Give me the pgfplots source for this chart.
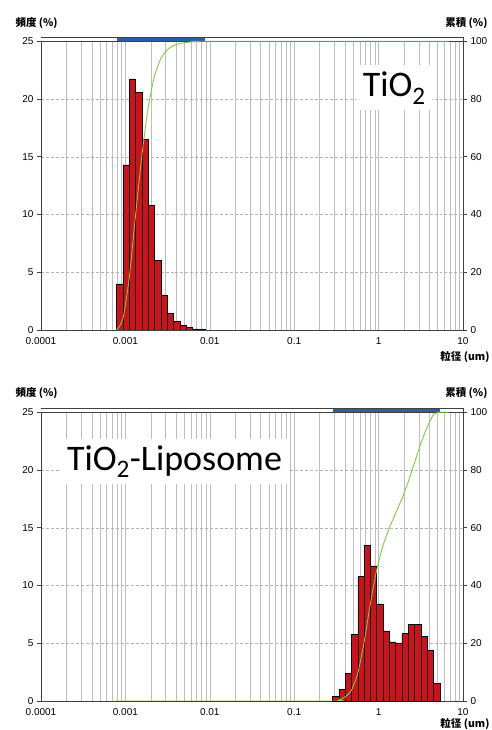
\documentclass[border=0pt]{standalone}
\usepackage{pgfplots}
\pgfplotsset{compat=1.18}
\usepackage{fontspec}
\setmainfont{Liberation Sans}
\newfontfamily\cjk{Noto Sans CJK JP}
\newfontfamily\calibrifont{Carlito}
\definecolor{barred}{RGB}{205,18,28}
\definecolor{bandblue}{RGB}{40,95,165}
\definecolor{cumgreen}{RGB}{125,205,60}
\definecolor{gridgray}{RGB}{190,190,190}
\begin{document}
\begin{tikzpicture}
\useasboundingbox (0,0) rectangle (492bp,730bp);
% ---------------- top panel: TiO2 ----------------
\begin{axis}[name=top, at={(41bp,400bp)}, anchor=south west,
    scale only axis, width=422bp, height=292.2bp,
    xmode=log, xmin=1e-4, xmax=10, ymin=0, ymax=25.3,
    /pgf/number format/assume math mode=true,
    tick label style={font=\fontsize{10bp}{12bp}\selectfont},
    axis line style={black!75, line width=0.8pt},
    tick align=outside, major tick length=4bp, minor tick length=0pt,
    tick style={black!75, line width=0.6pt},
    xtick={1e-4,1e-3,1e-2,1e-1,1,10},
    xticklabels={0.0001,0.001,0.01,0.1,1,10},
    xtick style={draw=none},
    ytick={0,5,...,25},
    xmajorgrids, xminorgrids, ymajorgrids,
    major x grid style={gridgray, line width=0.5pt},
    minor x grid style={gridgray, line width=0.45pt},
    major y grid style={gray!60, densely dashed, line width=0.5pt}]
\addplot[fill=white, draw=none] coordinates {(1e-4,25)(10,25)(10,25.3)(1e-4,25.3)};
\addplot[fill=bandblue, draw=none] coordinates {(0.000789,25)(0.008781,25)(0.008781,25.3)(0.000789,25.3)};
\addplot[black!75, line width=0.7pt] coordinates {(1e-4,25)(10,25)};
\addplot[ybar interval, fill=barred, draw=black, line width=0.5pt] coordinates {
(0.000789,4.0)(0.000937,14.3)(0.001113,21.75)(0.001322,20.6)(0.001571,16.55)
(0.001866,10.8)(0.002216,6.0)(0.002632,3.03)(0.003127,1.44)(0.003714,0.72)
(0.004411,0.38)(0.005240,0.2)(0.006224,0.1)(0.007393,0.05)(0.008781,0)};
\node[fill=white, inner sep=6bp, anchor=base west,
  font=\calibrifont\fontsize{36bp}{40bp}\selectfont] at (rel axis cs:0.748,0.80) {TiO\textsubscript{2}};
\end{axis}
\begin{axis}[at={(41bp,400bp)}, anchor=south west,
    scale only axis, width=422bp, height=292.2bp,
    xmode=log, xmin=1e-4, xmax=10, ymin=0, ymax=101.2,
    axis x line=none, axis y line*=right,
    /pgf/number format/assume math mode=true,
    tick label style={font=\fontsize{10bp}{12bp}\selectfont},
    axis line style={black!75, line width=0.8pt},
    tick align=outside, major tick length=4bp, minor tick length=0pt,
    tick style={black!75, line width=0.6pt},
    ytick={0,20,...,100}]
\addplot[cumgreen, line width=0.9pt, smooth, tension=0.4] coordinates {
(0.00076,0)(0.000789,0)(0.000937,4)(0.001113,18.3)(0.001322,40.05)(0.001571,60.65)
(0.001866,77.2)(0.002216,88)(0.002632,94)(0.003127,97.03)(0.003714,98.47)
(0.004411,99.19)(0.005240,99.57)(0.006224,99.77)(0.007393,99.87)(0.008781,100)(6.8,100)};
\end{axis}
\node[anchor=west, font=\cjk\bfseries\fontsize{10.5bp}{12bp}\selectfont] at ([xshift=-29bp,yshift=15bp]top.north west) {頻度 (\%)};
\node[anchor=east, font=\cjk\bfseries\fontsize{10.5bp}{12bp}\selectfont] at ([xshift=28bp,yshift=15bp]top.north east) {累積 (\%)};
\node[anchor=east, font=\cjk\bfseries\fontsize{10.5bp}{12bp}\selectfont] at ([xshift=30bp,yshift=-27bp]top.south east) {粒径 (um)};
% ---------------- bottom panel: TiO2-Liposome ----------------
\begin{axis}[name=bot, at={(41bp,29bp)}, anchor=south west,
    scale only axis, width=422bp, height=292.2bp,
    xmode=log, xmin=1e-4, xmax=10, ymin=0, ymax=25.3,
    /pgf/number format/assume math mode=true,
    tick label style={font=\fontsize{10bp}{12bp}\selectfont},
    axis line style={black!75, line width=0.8pt},
    tick align=outside, major tick length=4bp, minor tick length=0pt,
    tick style={black!75, line width=0.6pt},
    xtick={1e-4,1e-3,1e-2,1e-1,1,10},
    xticklabels={0.0001,0.001,0.01,0.1,1,10},
    xtick style={draw=none},
    ytick={0,5,...,25},
    xmajorgrids, xminorgrids, ymajorgrids,
    major x grid style={gridgray, line width=0.5pt},
    minor x grid style={gridgray, line width=0.45pt},
    major y grid style={gray!60, densely dashed, line width=0.5pt}]
\addplot[fill=white, draw=none] coordinates {(1e-4,25)(10,25)(10,25.3)(1e-4,25.3)};
\addplot[fill=bandblue, draw=none] coordinates {(0.2847,25)(5.309,25)(5.309,25.3)(0.2847,25.3)};
\addplot[black!75, line width=0.7pt] coordinates {(1e-4,25)(10,25)};
\addplot[ybar interval, fill=barred, draw=black, line width=0.5pt] coordinates {
(0.2847,0.37)(0.3382,1.0)(0.4017,2.36)(0.4771,5.78)(0.5667,10.8)(0.6731,13.45)
(0.7995,11.7)(0.9497,8.4)(1.1280,6.07)(1.3399,5.13)(1.5915,5.04)(1.8904,5.84)
(2.2454,6.64)(2.6671,6.64)(3.1680,5.6)(3.7629,4.4)(4.4696,1.5)(5.3090,0)};
\node[fill=white, inner sep=6bp, anchor=base west,
  font=\calibrifont\fontsize{36bp}{40bp}\selectfont] at (rel axis cs:0.047,0.79) {TiO\textsubscript{2}-Liposome};
\end{axis}
\begin{axis}[at={(41bp,29bp)}, anchor=south west,
    scale only axis, width=422bp, height=292.2bp,
    xmode=log, xmin=1e-4, xmax=10, ymin=0, ymax=101.2,
    axis x line=none, axis y line*=right,
    /pgf/number format/assume math mode=true,
    tick label style={font=\fontsize{10bp}{12bp}\selectfont},
    axis line style={black!75, line width=0.8pt},
    tick align=outside, major tick length=4bp, minor tick length=0pt,
    tick style={black!75, line width=0.6pt},
    ytick={0,20,...,100}]
\addplot[cumgreen, line width=0.9pt, smooth, tension=0.3] coordinates {
(0.00076,0)(0.2847,0)(0.3382,0.37)(0.4017,1.37)(0.4771,3.73)(0.5667,9.51)(0.6731,20.31)
(0.7995,33.76)(0.9497,45.46)(1.1280,53.86)(1.3399,59.93)(1.5915,65.06)(1.8904,70.1)
(2.2454,75.94)(2.6671,82.58)(3.1680,89.22)(3.7629,94.82)(4.4696,99.22)(5.3090,100)(6.8,100)};
\end{axis}
\node[anchor=west, font=\cjk\bfseries\fontsize{10.5bp}{12bp}\selectfont] at ([xshift=-29bp,yshift=16bp]bot.north west) {頻度 (\%)};
\node[anchor=east, font=\cjk\bfseries\fontsize{10.5bp}{12bp}\selectfont] at ([xshift=28bp,yshift=16bp]bot.north east) {累積 (\%)};
\node[anchor=east, font=\cjk\bfseries\fontsize{10.5bp}{12bp}\selectfont] at ([xshift=30bp,yshift=-23bp]bot.south east) {粒径 (um)};
\end{tikzpicture}
\end{document}
